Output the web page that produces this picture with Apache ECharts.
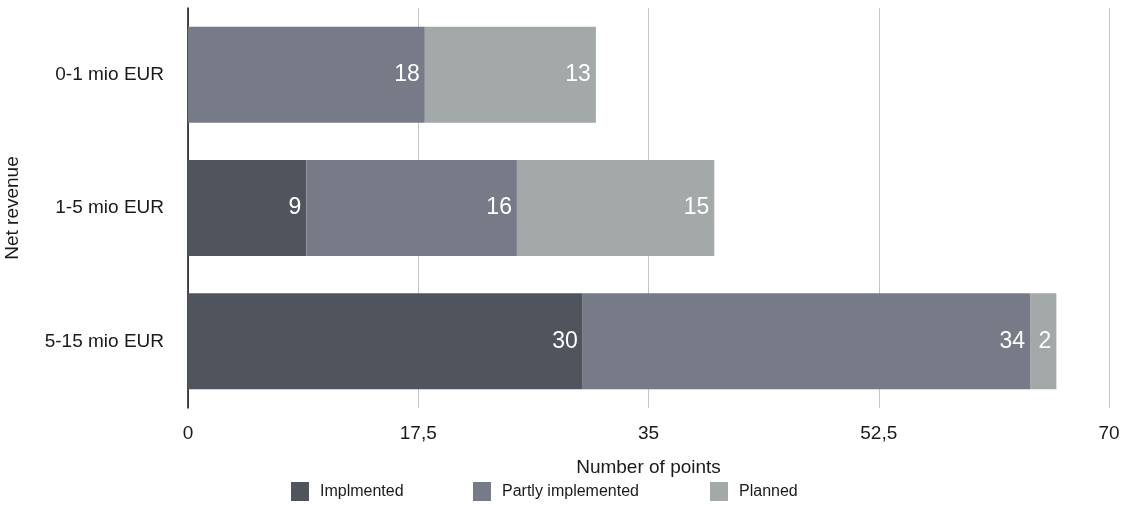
<!DOCTYPE html>
<html>
<head>
<meta charset="utf-8">
<script src="https://cdn.jsdelivr.net/npm/echarts@6/dist/echarts.min.js"></script>
<style>
  html, body { margin: 0; padding: 0; background: #fff; }
  #chart { width: 1123px; height: 505px; }
</style>
</head>
<body>
<div id="chart"></div>
<script>
// Revenue bands (top to bottom)
const categories = ['0-1 mio EUR', '1-5 mio EUR', '5-15 mio EUR'];
// Points per status for each band
const implemented = [0, 9, 30];
const partlyImplemented = [18, 16, 34];
const planned = [13, 15, 2];
const seriesNames = ['Implmented', 'Partly implemented', 'Planned'];
const seriesColors = ['#50545c', '#767b87', '#a3a8a8'];
const xTicks = [0, 17.5, 35, 52.5, 70];

const FONT = '"Liberation Sans", Helvetica, Arial, sans-serif';

function makeSeries(name, data, color) {
  return {
    name: name,
    type: 'bar',
    stack: 'total',
    barCategoryGap: '28%',
    data: data.map(v => (v === 0 ? null : v)),
    itemStyle: { color: color },
    label: {
      show: true,
      position: 'insideRight',
      distance: 5,
      color: '#fff',
      fontSize: 23,
      fontFamily: FONT
    }
  };
}

const chart = echarts.init(document.getElementById('chart'));
chart.setOption({
  animation: false,
  grid: { left: 188, right: 14, top: 8, bottom: 97, containLabel: false, outerBoundsMode: 'none' },
  xAxis: {
    type: 'value',
    min: 0,
    max: 70,
    interval: 17.5,
    name: 'Number of points',
    nameLocation: 'middle',
    nameGap: 50,
    nameTextStyle: { fontSize: 19, color: '#1a1a1a', fontFamily: FONT },
    axisLine: { show: false },
    axisTick: { show: false },
    axisLabel: {
      fontSize: 19, color: '#1a1a1a', fontFamily: FONT, margin: 16,
      formatter: v => (xTicks.includes(v) ? String(v).replace('.', ',') : '')
    },
    splitLine: { show: true, lineStyle: { color: '#c4c4c4', width: 1 } }
  },
  yAxis: {
    type: 'category',
    data: categories,
    inverse: true,
    name: 'Net revenue',
    nameLocation: 'middle',
    nameGap: 166,
    nameRotate: 90,
    nameTextStyle: { fontSize: 19, color: '#1a1a1a', fontFamily: FONT },
    axisLine: { show: true, lineStyle: { color: '#111', width: 1.5 } },
    axisTick: { show: false },
    axisLabel: { fontSize: 19, color: '#1a1a1a', fontFamily: FONT, margin: 24 },
    splitLine: { show: false }
  },
  legend: [0, 1, 2].map((i, k) => ({
    data: [seriesNames[i]],
    left: [291, 473, 710][k],
    top: 482,
    padding: 0,
    itemWidth: 18,
    itemHeight: 19,
    icon: 'rect',
    textStyle: { fontSize: 16, color: '#1a1a1a', fontFamily: FONT, padding: [0, 0, 0, 6] }
  })),
  series: [
    makeSeries(seriesNames[0], implemented, seriesColors[0]),
    makeSeries(seriesNames[1], partlyImplemented, seriesColors[1]),
    makeSeries(seriesNames[2], planned, seriesColors[2])
  ]
});
</script>
</body>
</html>
